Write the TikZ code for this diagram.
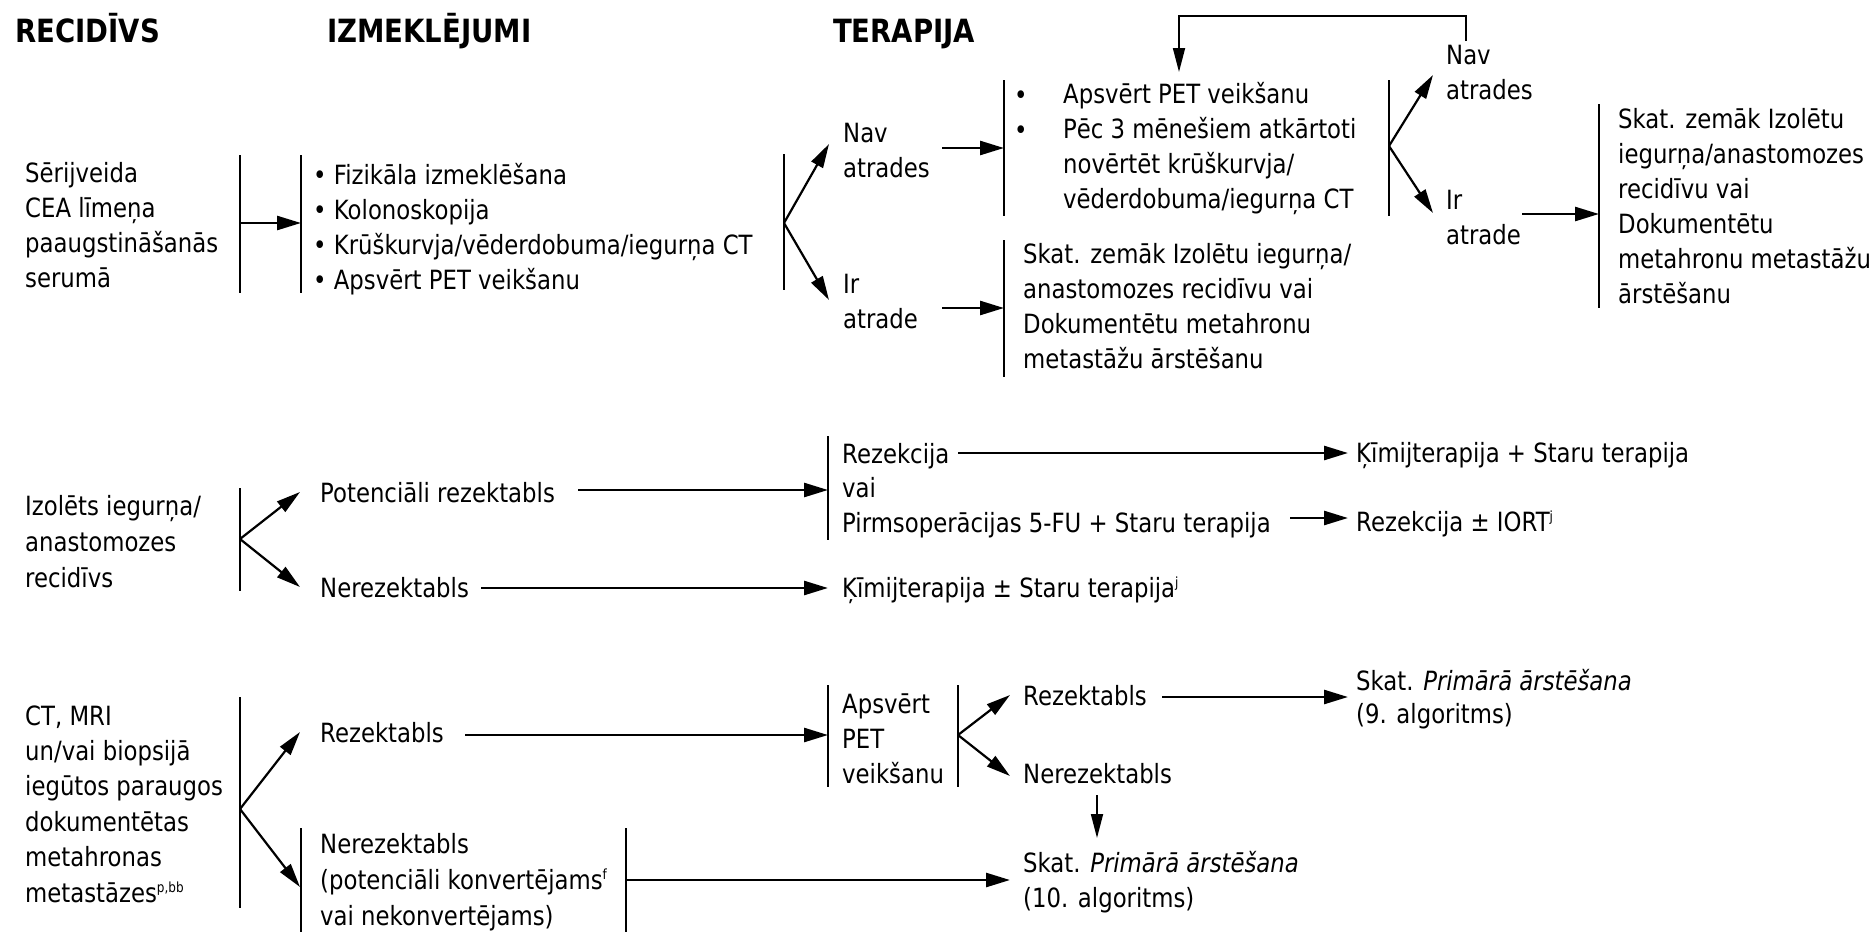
\documentclass[tikz,border=0pt]{standalone}
\usepackage{fontspec}
\setmainfont{DejaVu Sans}[FakeStretch=0.86]
\usetikzlibrary{arrows.meta}
\newcommand\supmark[1]{\raisebox{10pt}{\fontsize{14}{14}\selectfont #1}}

\begin{document}
% Text nodes are anchored at the baseline of their LAST line.
\begin{tikzpicture}[x=1pt,y=-1pt,
  txt/.style={anchor=base west, inner sep=0pt, align=left, font=\fontsize{26.5}{35}\selectfont},
  head/.style={anchor=base west, inner sep=0pt, font=\fontsize{32}{36}\selectfont\bfseries},
  bar/.style={line width=1.8pt},
  arr/.style={line width=2.6pt, -{Triangle[length=24pt,width=14pt]}},
  brarr/.style={line width=2.2pt, -{Triangle[length=24pt,width=13pt]}},
  thinarr/.style={line width=1.8pt, -{Triangle[length=24pt,width=12pt]}},
]
\useasboundingbox (0,0) rectangle (1875,932);

% column headings
\node[head] (hrec) at (15,42) {RECIDĪVS};
\node[head] (hizm) at (327,42) {IZMEKLĒJUMI};
\node[head] (hter) at (833,42) {TERAPIJA};

% ---------- rising CEA ----------
\node[txt] (cea) at (25,287) {Sērijveida\\CEA līmeņa\\paaugstināšanās\\serumā};
\coordinate (a1t) at (240,155); \coordinate (a1b) at (240,293); \coordinate (a1m) at (240,223);
\coordinate (a2t) at (301,155); \coordinate (a2b) at (301,293); \coordinate (a2m) at (301,223);
\draw[bar] (a1t) -- (a1b);
\draw[bar] (a2t) -- (a2b);
\draw[arr] (a1m) -- (a2m);
\node[txt] (izm) at (313,289) {• Fizikāla izmeklēšana\\• Kolonoskopija\\• Krūškurvja/vēderdobuma/iegurņa CT\\• Apsvērt PET veikšanu};

\coordinate (a3t) at (784,154); \coordinate (a3b) at (784,290); \coordinate (a3m) at (784,223);
\draw[bar] (a3t) -- (a3b);
\coordinate (navtip) at (829,144); \coordinate (irtip) at (829,300);
\draw[brarr] (a3m) -- (navtip);
\draw[brarr] (a3m) -- (irtip);
\node[txt] (nav1) at (843,177) {Nav\\atrades};
\node[txt] (ir1) at (843,328) {Ir\\atrade};

\coordinate (a4t) at (1004,80); \coordinate (a4b) at (1004,216); \coordinate (a4m) at (1004,148);
\coordinate (a7t) at (1004,240); \coordinate (a7b) at (1004,377); \coordinate (a7m) at (1004,308);
\coordinate (nav1e) at (942,148); \coordinate (ir1e) at (942,308);
\draw[bar] (a4t) -- (a4b);
\draw[bar] (a7t) -- (a7b);
\draw[arr] (nav1e) -- (a4m);
\draw[arr] (ir1e) -- (a7m);

\node[txt] (dot1) at (1014,104) {•};
\node[txt] (dot2) at (1014,139) {•};
\node[txt] (pet) at (1063,208) {Apsvērt PET veikšanu\\Pēc 3 mēnešiem atkārtoti\\novērtēt krūškurvja/\\vēderdobuma/iegurņa CT};
\node[txt] (skat1) at (1023,368) {Skat. zemāk Izolētu iegurņa/\\anastomozes recidīvu vai\\Dokumentētu metahronu\\metastāžu ārstēšanu};

\coordinate (a5t) at (1389,80); \coordinate (a5b) at (1389,216); \coordinate (a5m) at (1389,146);
\draw[bar] (a5t) -- (a5b);
\coordinate (nav2tip) at (1433,75); \coordinate (ir2tip) at (1433,213);
\draw[brarr] (a5m) -- (nav2tip);
\draw[brarr] (a5m) -- (ir2tip);
\node[txt] (nav2) at (1446,99) {Nav\\atrades};
\node[txt] (ir2) at (1446,244) {Ir\\atrade};

% repeat loop back to the follow-up box
\coordinate (lp1) at (1466,41); \coordinate (lp2) at (1466,16);
\coordinate (lp3) at (1179,16); \coordinate (lp4) at (1179,72);
\draw[thinarr] (lp1) -- (lp2) -- (lp3) -- (lp4);

\coordinate (ir2e) at (1522,214);
\coordinate (a6t) at (1599,104); \coordinate (a6b) at (1599,308); \coordinate (a6m) at (1599,214);
\draw[bar] (a6t) -- (a6b);
\draw[arr] (ir2e) -- (a6m);
\node[txt] (skat2) at (1618,303) {Skat. zemāk Izolētu\\iegurņa/anastomozes\\recidīvu vai\\Dokumentētu\\metahronu metastāžu\\ārstēšanu};

% ---------- isolated pelvic / anastomotic recurrence ----------
\node[txt] (izol) at (25,587) {Izolēts iegurņa/\\[1pt]anastomozes\\[1pt]recidīvs};
\coordinate (b1t) at (240,488); \coordinate (b1b) at (240,591); \coordinate (b1m) at (240,539);
\draw[bar] (b1t) -- (b1b);
\coordinate (pottip) at (300,492); \coordinate (nertip) at (300,587);
\draw[brarr] (b1m) -- (pottip);
\draw[brarr] (b1m) -- (nertip);
\node[txt] (pot) at (320,502) {Potenciāli rezektabls};
\node[txt] (ner1) at (320,597) {Nerezektabls};

\coordinate (pote) at (578,490); \coordinate (ner1e) at (481,588);
\coordinate (b2t) at (828,436); \coordinate (b2b) at (828,540); \coordinate (b2m) at (828,490);
\coordinate (kim1) at (828,588);
\draw[bar] (b2t) -- (b2b);
\draw[arr] (pote) -- (b2m);
\draw[arr] (ner1e) -- (kim1);
\node[txt] (rez) at (842,532) {Rezekcija\\[-0.5pt]vai\\[-0.5pt]Pirmsoperācijas 5-FU + Staru terapija};
\coordinate (reze) at (958,453); \coordinate (kimst) at (1348,453);
\coordinate (pirme) at (1290,518); \coordinate (iort) at (1348,518);
\draw[arr] (reze) -- (kimst);
\draw[arr] (pirme) -- (iort);
\node[txt] (kimplus) at (1356,462) {Ķīmijterapija + Staru terapija};
\node[txt] (reziort) at (1356,531) {Rezekcija ± IORT\supmark{j}};
\node[txt] (kimpm) at (842,597) {Ķīmijterapija ± Staru terapija\supmark{j}};

% ---------- documented metachronous metastases ----------
\node[txt] (ctmri) at (25,902) {CT, MRI\\[0.4pt]un/vai biopsijā\\[0.4pt]iegūtos paraugos\\[0.4pt]dokumentētas\\[0.4pt]metahronas\\[0.4pt]metastāzes\supmark{p,bb}};
\coordinate (c1t) at (240,697); \coordinate (c1b) at (240,908); \coordinate (c1m) at (240,809);
\draw[bar] (c1t) -- (c1b);
\coordinate (rez3tip) at (300,732); \coordinate (ner3tip) at (300,887);
\draw[brarr] (c1m) -- (rez3tip);
\draw[brarr] (c1m) -- (ner3tip);
\node[txt] (rez3) at (320,742) {Rezektabls};
\coordinate (rez3e) at (465,735);
\coordinate (c2t) at (828,685); \coordinate (c2b) at (828,787); \coordinate (c2m) at (828,735);
\coordinate (c3t) at (958,685); \coordinate (c3b) at (958,787); \coordinate (c3m) at (958,735);
\draw[bar] (c2t) -- (c2b);
\draw[bar] (c3t) -- (c3b);
\draw[arr] (rez3e) -- (c2m);
\node[txt] (petc) at (842,783) {Apsvērt\\PET\\veikšanu};
\coordinate (rez4tip) at (1010,695); \coordinate (ner4tip) at (1010,776);
\draw[brarr] (c3m) -- (rez4tip);
\draw[brarr] (c3m) -- (ner4tip);
\node[txt] (rez4) at (1023,705) {Rezektabls};
\node[txt] (ner4) at (1023,783) {Nerezektabls};
\coordinate (rez4e) at (1162,697); \coordinate (alg9) at (1348,697);
\draw[arr] (rez4e) -- (alg9);
\node[txt] (skat9) at (1356,723) {Skat. \textit{Primārā ārstēšana}\\[-2pt](9. algoritms)};
\coordinate (ner4e) at (1097,795); \coordinate (alg10t) at (1097,838);
\draw[thinarr] (ner4e) -- (alg10t);
\node[txt] (skat10) at (1023,907) {Skat. \textit{Primārā ārstēšana}\\(10. algoritms)};

\coordinate (c4t) at (301,828); \coordinate (c4b) at (301,932);
\coordinate (c5t) at (626,828); \coordinate (c5b) at (626,932); \coordinate (c5m) at (626,880);
\draw[bar] (c4t) -- (c4b);
\draw[bar] (c5t) -- (c5b);
\node[txt] (ner5) at (320,925) {Nerezektabls\\[1pt](potenciāli konvertējams\supmark{f}\\[0.5pt]vai nekonvertējams)};
\coordinate (alg10) at (1010,880);
\draw[arr] (c5m) -- (alg10);
\end{tikzpicture}
\end{document}
